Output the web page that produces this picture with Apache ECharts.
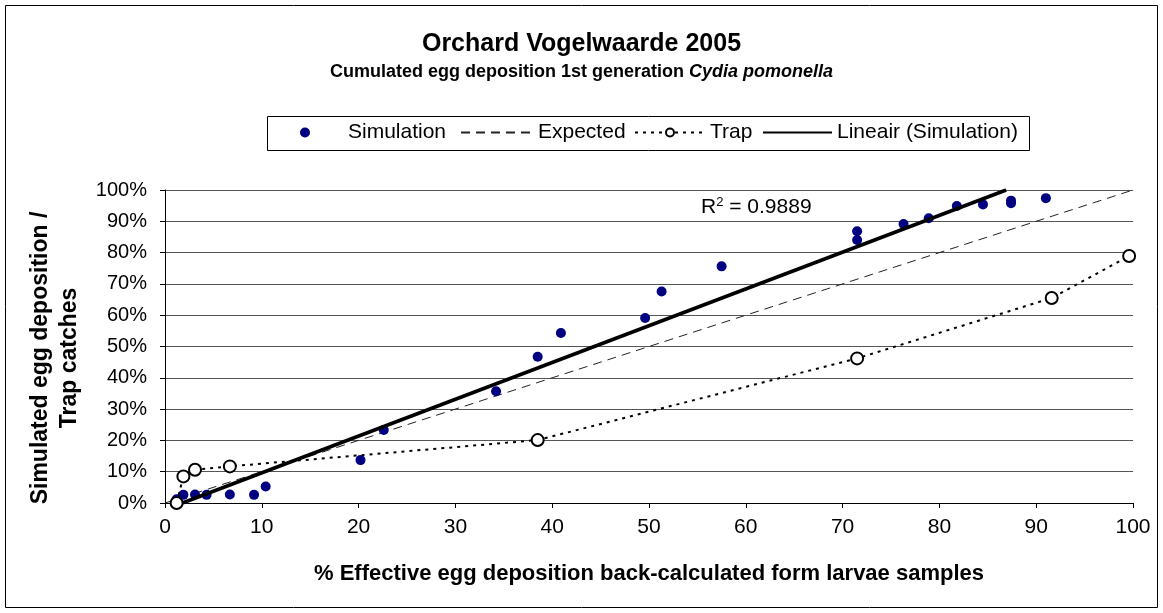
<!DOCTYPE html>
<html>
<head>
	<meta charset="utf-8">
	<script type="text/javascript" src="https://cdn.jsdelivr.net/npm/echarts@6/dist/echarts.min.js"></script>
	<style>
		body { margin: 0; background: #fff; }
	</style>
</head>
<body>

<div id="main" style="width:1163px;height:613px;"></div>

<script type="text/javascript">

  // values
  var simX = [1.2, 1.9, 3.1, 4.3, 6.7, 9.2, 10.4, 20.2, 22.6, 34.2, 38.5, 40.9, 49.6, 51.3, 57.5, 71.5, 71.5, 76.3, 78.9, 81.8, 84.5, 87.4, 87.4, 91.0];
  var simY = [1.2, 2.6, 2.7, 2.6, 2.7, 2.6, 5.3, 13.7, 23.3, 35.7, 46.7, 54.3, 59.1, 67.6, 75.6, 86.8, 84.0, 89.1, 91.0, 94.9, 95.4, 96.6, 95.8, 97.4];

  var trapX = [1.2, 1.9, 3.1, 6.7, 38.5, 71.5, 91.6, 99.6];
  var trapY = [0, 8.5, 10.6, 11.7, 20.1, 46.2, 65.5, 78.9];

  var expX = [0, 100];
  var expY = [0, 100];

  // ends of the Excel trendline as drawn (clipped at 0% and 100%)
  var trendX = [1.8, 86.9];
  var trendY = [0, 100];

  var rSquared = '0.9889';

  function pairs(xs, ys) {
    var out = [];
    for (var i = 0; i < xs.length; i++) {
      out.push([xs[i], ys[i]]);
    }
    return out;
  }

  var myChart = echarts.init(document.getElementById('main'));

  var font = 'Liberation Sans, Arial, sans-serif';
  var legendText = { fontFamily: font, fontSize: 21, color: '#000' };

  // one legend per entry so each sits where Excel put it
  function legendAt(name, left, width, extra) {
    var l = {
      data: [name],
      left: left,
      top: 122,
      padding: 0,
      itemWidth: width,
      itemHeight: 10,
      textStyle: legendText
    };
    if (extra) {
      for (var k in extra) l[k] = extra[k];
    }
    return l;
  }

  var option = {
    backgroundColor: '#fff',
    animation: false,
    title: {
      left: 'center',
      top: 27,
      itemGap: 6,
      text: 'Orchard Vogelwaarde 2005',
      textStyle: { fontFamily: font, fontSize: 25, fontWeight: 'bold', color: '#000' },
      subtext: 'Cumulated egg deposition 1st generation {i|Cydia pomonella}',
      subtextStyle: {
        fontFamily: font, fontSize: 18, fontWeight: 'bold', color: '#000',
        rich: {
          i: { fontFamily: font, fontSize: 18, fontWeight: 'bold', fontStyle: 'italic', color: '#000' }
        }
      }
    },
    legend: [
      legendAt('Simulation', 300, 10, { textStyle: { fontFamily: font, fontSize: 21, color: '#000', padding: [0, 0, 0, 33] } }),
      legendAt('Expected', 460, 72),
      legendAt('Trap', 634, 70),
      legendAt('Lineair (Simulation)', 762, 69)
    ],
    grid: {
      left: 165,
      right: 30,
      top: 190,
      bottom: 110
    },
    xAxis: {
      type: 'value',
      min: 0,
      max: 100,
      interval: 10,
      name: '% Effective egg deposition back-calculated form larvae samples',
      nameLocation: 'middle',
      nameGap: 60,
      nameTextStyle: { fontFamily: font, fontSize: 22, fontWeight: 'bold', color: '#000' },
      axisLine: { lineStyle: { color: '#000', width: 1 } },
      axisTick: { length: 5, lineStyle: { color: '#000' } },
      axisLabel: { margin: 14, fontFamily: font, fontSize: 21, color: '#000' },
      splitLine: { show: false }
    },
    yAxis: {
      type: 'value',
      min: 0,
      max: 100,
      interval: 10,
      axisLine: { show: true, lineStyle: { color: '#000', width: 1 } },
      axisTick: { show: true, length: 5, lineStyle: { color: '#000' } },
      axisLabel: { margin: 18, fontFamily: font, fontSize: 20, color: '#000', formatter: '{value}%' },
      splitLine: { show: true, lineStyle: { color: '#555', width: 1 } }
    },
    graphic: [
      {
        type: 'rect',
        shape: { x: 5.5, y: 5.5, width: 1152, height: 602 },
        style: { fill: 'none', stroke: '#000', lineWidth: 1 },
        silent: true
      },
      {
        // legend frame
        type: 'rect',
        shape: { x: 267.5, y: 116.5, width: 762, height: 34 },
        style: { fill: 'none', stroke: '#000', lineWidth: 1 },
        silent: true
      },
      {
        type: 'text',
        x: 55,
        y: 358,
        rotation: Math.PI / 2,
        style: {
          text: 'Simulated egg deposition /\nTrap catches',
          x: 0,
          y: 0,
          fontFamily: font,
          fontSize: 23,
          fontWeight: 'bold',
          lineHeight: 29,
          align: 'center',
          verticalAlign: 'middle',
          fill: '#000'
        }
      },
      {
        type: 'text',
        left: 701,
        top: 196,
        style: {
          text: 'R{s|2} = ' + rSquared,
          fontFamily: font,
          fontSize: 21,
          fill: '#000',
          rich: {
            s: { fontFamily: font, fontSize: 13, verticalAlign: 'top', lineHeight: 22 }
          }
        }
      }
    ],
    series: [
      {
        name: 'Simulation',
        type: 'scatter',
        symbol: 'circle',
        symbolSize: 10,
        itemStyle: { color: '#000080', opacity: 1 },
        data: pairs(simX, simY),
        z: 3
      },
      {
        name: 'Expected',
        type: 'line',
        symbol: 'none',
        itemStyle: { color: 'rgba(0,0,0,0)' },
        lineStyle: { color: '#222', width: 1, type: [9, 6] },
        data: pairs(expX, expY),
        z: 2
      },
      {
        name: 'Trap',
        type: 'line',
        symbol: 'emptyCircle',
        symbolSize: 12,
        showSymbol: true,
        lineStyle: { color: '#000', width: 2, type: [3, 5] },
        itemStyle: { color: '#000', borderColor: '#000', borderWidth: 1 },
        data: pairs(trapX, trapY),
        z: 4
      },
      {
        name: 'Lineair (Simulation)',
        type: 'line',
        symbol: 'none',
        itemStyle: { color: 'rgba(0,0,0,0)' },
        lineStyle: { color: '#000', width: 3.5 },
        data: pairs(trendX, trendY),
        z: 5
      }
    ]
  };

  myChart.setOption(option);
</script>
</body>
</html>
